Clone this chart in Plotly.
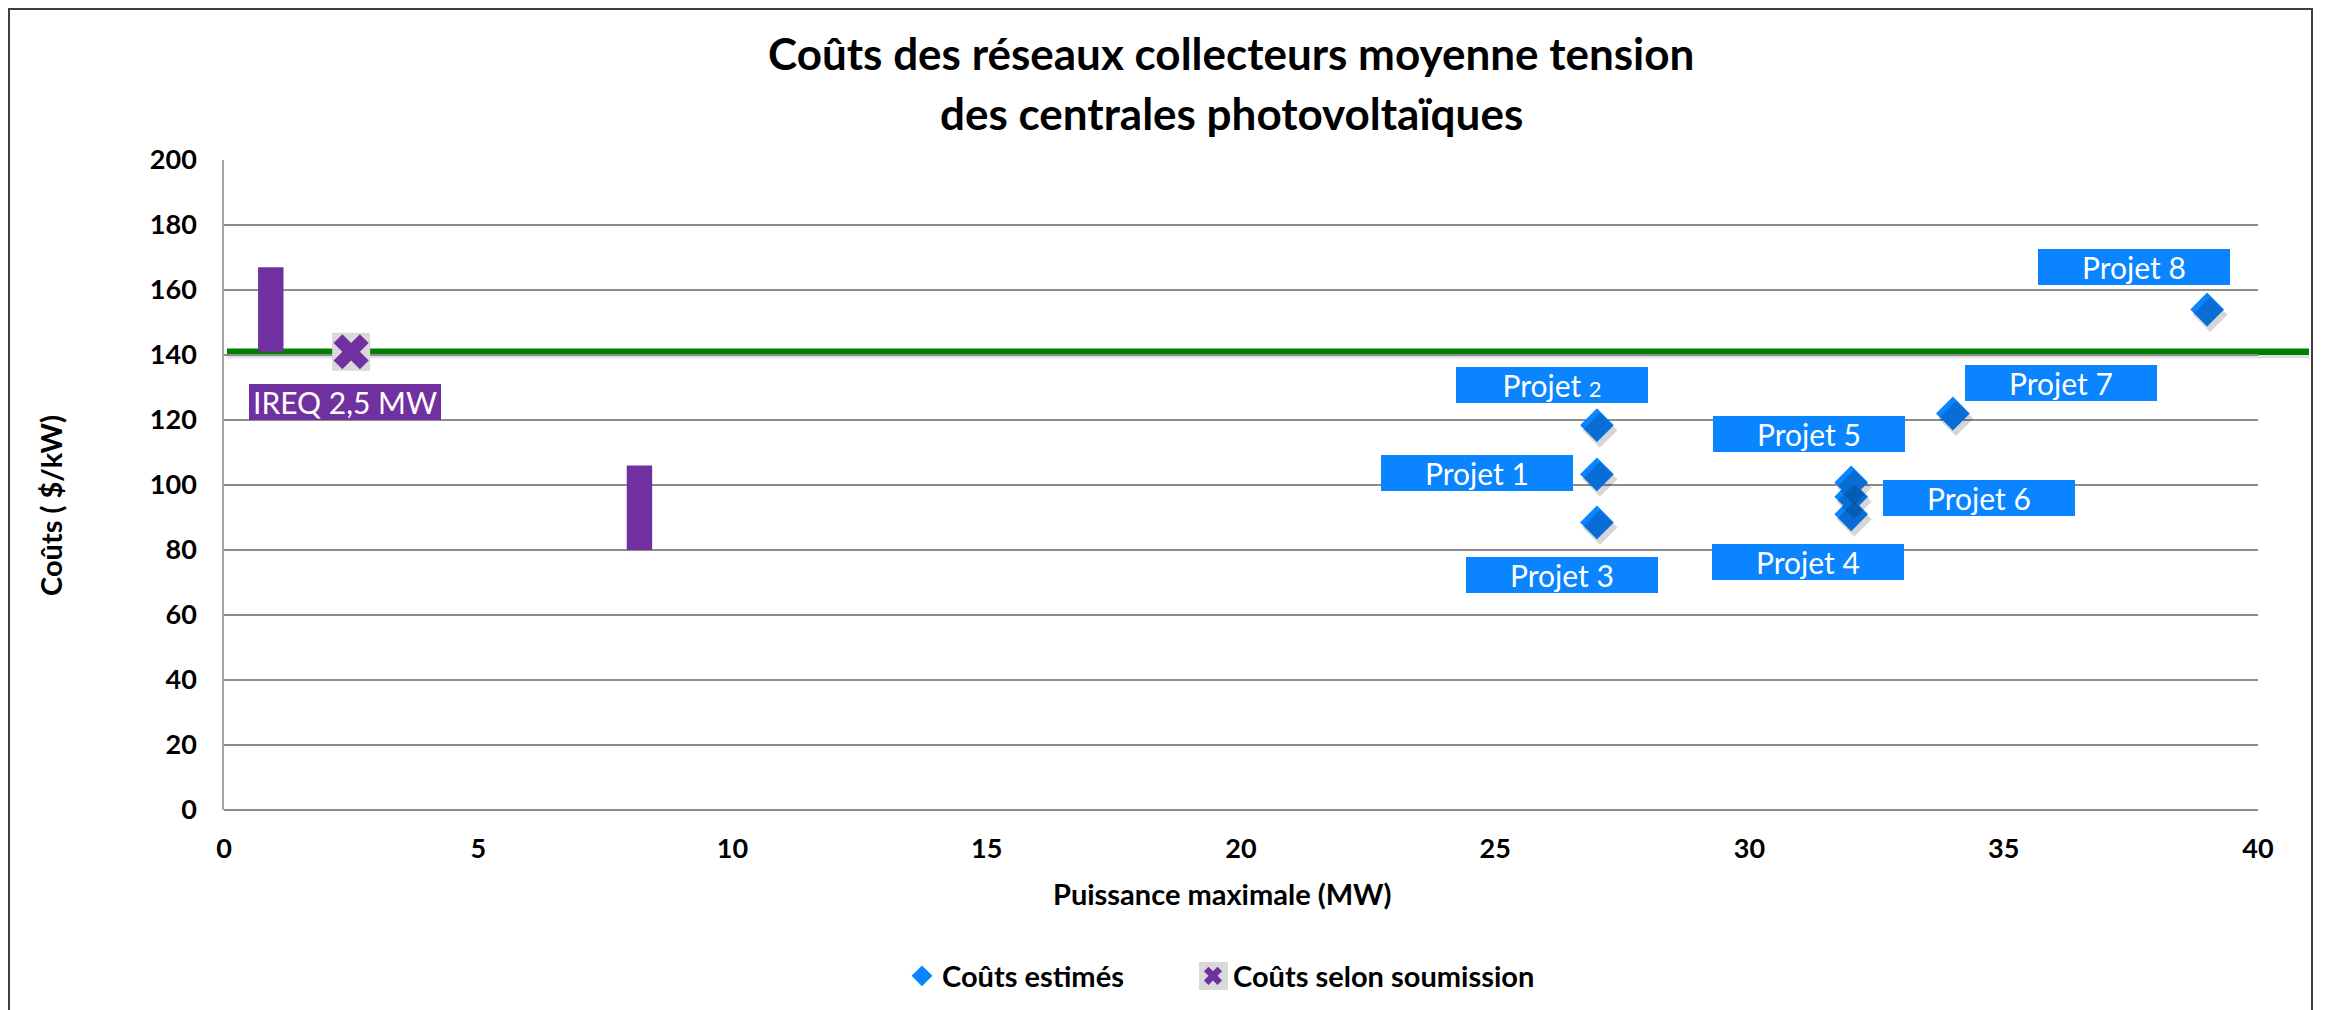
import plotly.graph_objects as go

# ---------------- data ----------------
project_labels = ["Projet 1", "Projet 2", "Projet 3", "Projet 4",
                  "Projet 5", "Projet 6", "Projet 7", "Projet 8"]
project_power_mw = [27, 27, 27, 32, 32, 32, 34, 39]
project_cost = [103.3, 118.4, 88.5, 91.0, 100.8, 96.4, 122.0, 154.0]

submission_label = "IREQ 2,5 MW"
submission_power_mw = [2.5]
submission_cost = [141.0]

range_power_mw = [0.92, 8.17]
range_cost_low = [141.0, 80.0]
range_cost_high = [167.0, 106.0]

reference_cost = 141.0

x_ticks = [0, 5, 10, 15, 20, 25, 30, 35, 40]
y_ticks = [0, 20, 40, 60, 80, 100, 120, 140, 160, 180, 200]

# ---------------- styling ----------------
FONT = "Lato"
BLUE = "#0A84FF"
PURPLE = "#7030A0"
GREEN = "#008000"
GRID = "#8C8C8C"

BODY = 8  # default page margin around the figure div
W, H = 2325 - BODY, 1010 - BODY
ML, MT = 224 - BODY, 160 - BODY
PW, PH = 2034, 650
MR = W - ML - PW
MB = H - MT - PH


def px_x(px):  # page pixel -> paper x
    return (px - BODY - ML) / PW


def px_y(py):  # page pixel -> paper y
    return (MT + PH - (py - BODY)) / PH


fig = go.Figure()

# purple cost ranges
fig.add_trace(go.Bar(
    x=range_power_mw,
    y=[h - l for h, l in zip(range_cost_high, range_cost_low)],
    base=range_cost_low,
    width=0.5,
    marker=dict(color=PURPLE, line=dict(width=0)),
    showlegend=False, hoverinfo="skip",
))

# diamond shadows (shifted overlay axes)
fig.add_trace(go.Scatter(
    x=project_power_mw, y=project_cost, mode="markers",
    marker=dict(symbol="diamond", size=27, color="rgba(0,0,0,0.16)"),
    xaxis="x2", yaxis="y2", showlegend=False, hoverinfo="skip",
))

fig.add_trace(go.Scatter(
    x=project_power_mw, y=project_cost, mode="markers",
    name="Coûts estimés", legend="legend",
    marker=dict(symbol="diamond", size=26, color=BLUE, line=dict(width=0)),
))

fig.add_trace(go.Scatter(
    x=submission_power_mw, y=submission_cost, mode="markers",
    name="Coûts selon soumission", legend="legend2",
    marker=dict(symbol="x", size=31, color=PURPLE, line=dict(width=0)),
))

shapes = []
# frame
shapes.append(dict(type="rect", xref="paper", yref="paper",
                   x0=px_x(9), x1=px_x(2312), y0=px_y(1040), y1=px_y(9),
                   line=dict(color="#404040", width=2), layer="below"))
# gray box behind the submission marker
shapes.append(dict(type="rect", xref="x", yref="y",
                   xsizemode="pixel", ysizemode="pixel",
                   xanchor=submission_power_mw[0], yanchor=submission_cost[0],
                   x0=-19, x1=19, y0=-19, y1=19,
                   fillcolor="#D9D9D9", line=dict(width=0), layer="between"))
# gray box behind the legend symbol of the submission series
shapes.append(dict(type="rect", xref="paper", yref="paper",
                   x0=px_x(1199), x1=px_x(1228), y0=px_y(990), y1=px_y(962),
                   fillcolor="#D9D9D9", line=dict(width=0), layer="above"))
# green reference line shadow + line
shapes.append(dict(type="line", xref="paper", yref="y",
                   x0=px_x(227), x1=px_x(2309),
                   y0=reference_cost - 1.1, y1=reference_cost - 1.1,
                   line=dict(color="rgba(0,0,0,0.13)", width=6), layer="between"))
shapes.append(dict(type="line", xref="paper", yref="y",
                   x0=px_x(227), x1=px_x(2309),
                   y0=reference_cost, y1=reference_cost,
                   line=dict(color=GREEN, width=6.5), layer="between"))

annotations = []
# titles
annotations.append(dict(text="<b>Coûts des réseaux collecteurs moyenne tension</b>",
                        xref="paper", yref="paper", x=px_x(1231), y=px_y(53),
                        xanchor="center", yanchor="middle", showarrow=False,
                        font=dict(family=FONT, size=44, color="black")))
annotations.append(dict(text="<b>des centrales photovoltaïques</b>",
                        xref="paper", yref="paper", x=px_x(1231), y=px_y(113),
                        xanchor="center", yanchor="middle", showarrow=False,
                        font=dict(family=FONT, size=44, color="black")))
annotations.append(dict(text="<b>Puissance maximale (MW)</b>",
                        xref="paper", yref="paper", x=px_x(1222), y=px_y(893),
                        xanchor="center", yanchor="middle", showarrow=False,
                        font=dict(family=FONT, size=29, color="black")))
annotations.append(dict(text="<b>Coûts ( $/kW)</b>", textangle=-90,
                        xref="paper", yref="paper", x=px_x(50), y=px_y(506),
                        xanchor="center", yanchor="middle", showarrow=False,
                        font=dict(family=FONT, size=29, color="black")))

# project labels: pixel offsets of the label box centre from the point
label_offsets = [(-120, -1), (-45, -40), (-35, 53), (-43, 48),
                 (-42, -48), (128, 1), (108, -31), (-73, -43)]
for lab, xv, yv, (dx, dy) in zip(project_labels, project_power_mw, project_cost, label_offsets):
    txt = lab
    if lab.endswith("2"):
        txt = lab[:-1] + "<span style='font-size:22px'>2</span>"
    annotations.append(dict(text=txt, x=xv, y=yv, xref="x", yref="y",
                            xshift=dx, yshift=-dy, showarrow=False,
                            xanchor="center", yanchor="middle",
                            width=192, height=36, borderpad=0, borderwidth=0,
                            bgcolor=BLUE, align="center", valign="middle",
                            font=dict(family=FONT, size=30, color="white")))

annotations.append(dict(text=submission_label, x=submission_power_mw[0], y=submission_cost[0],
                        xref="x", yref="y", xshift=-6, yshift=-50, showarrow=False,
                        xanchor="center", yanchor="middle",
                        width=192, height=36, borderpad=0, borderwidth=0,
                        bgcolor=PURPLE, align="center", valign="middle",
                        font=dict(family=FONT, size=30, color="white")))

tick_font = dict(family=FONT, size=27, color="black", weight="bold")
legend_font = dict(family=FONT, size=29, color="black", weight="bold")

fig.update_layout(
    width=W, height=H,
    margin=dict(l=ML, r=MR, t=MT, b=MB, pad=0, autoexpand=False),
    paper_bgcolor="white", plot_bgcolor="white",
    barmode="overlay",
    shapes=shapes, annotations=annotations,
    showlegend=True,
    legend=dict(orientation="h", x=px_x(902), xanchor="left",
                y=px_y(976), yanchor="middle",
                font=legend_font, bgcolor="rgba(0,0,0,0)"),
    legend2=dict(orientation="h", x=px_x(1193), xanchor="left",
                 y=px_y(976), yanchor="middle",
                 font=legend_font, bgcolor="rgba(0,0,0,0)"),
    xaxis=dict(range=[0, 40], tickvals=x_ticks, ticktext=[str(v) for v in x_ticks],
               showgrid=False, zeroline=False, showline=False,
               ticks="", ticklabelstandoff=20, tickfont=tick_font),
    yaxis=dict(range=[0, 200], tickvals=y_ticks, ticktext=[str(v) for v in y_ticks],
               showgrid=True, gridcolor=GRID, gridwidth=2,
               zeroline=True, zerolinecolor=GRID, zerolinewidth=2,
               showline=True, linecolor="#A6A6A6", linewidth=1.5,
               ticks="", ticklabelstandoff=20, tickfont=tick_font),
    xaxis2=dict(range=[0 - 3 / (PW / 40), 40 - 3 / (PW / 40)], overlaying="x",
                visible=False),
    yaxis2=dict(range=[0 + 5 / (PH / 200), 200 + 5 / (PH / 200)], overlaying="y",
                visible=False),
)

fig.write_html("out.html")
